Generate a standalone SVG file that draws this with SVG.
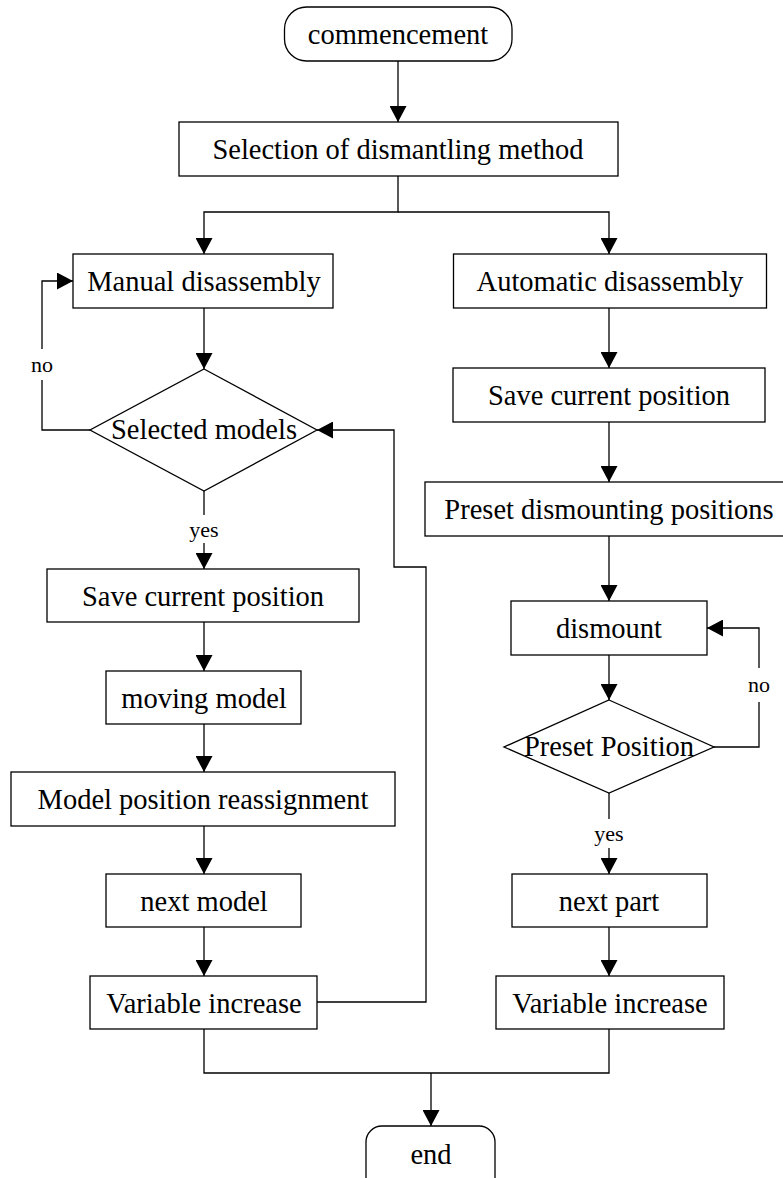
<svg xmlns="http://www.w3.org/2000/svg" width="783" height="1178" viewBox="0 0 783 1178">
<style>
.b{fill:#fff;stroke:#000;stroke-width:1.3}
.t{font-family:"Liberation Serif","Times New Roman",serif;font-size:28.5px;text-anchor:middle;fill:#000}
.l{font-family:"Liberation Serif","Times New Roman",serif;font-size:22px;text-anchor:middle;fill:#000}
.c{fill:none;stroke:#000;stroke-width:1.3}
</style>
<defs>
<marker id="a" markerUnits="userSpaceOnUse" markerWidth="17" markerHeight="17" refX="16" refY="8.5" orient="auto">
<path d="M0,0 L16,8.5 L0,17 z" fill="#000"/>
</marker>
</defs>
<rect width="783" height="1178" fill="#fff"/>
<g id="connectors">
<path class="c" d="M398,61 V122" marker-end="url(#a)"/>
<path class="c" d="M398,176 V212 H204 V254" marker-end="url(#a)"/>
<path class="c" d="M398,212 H609 V254" marker-end="url(#a)"/>
<path class="c" d="M204,308 V369" marker-end="url(#a)"/>
<path class="c" d="M90,430 H42 V380"/>
<path class="c" d="M42,349 V281 H73" marker-end="url(#a)"/>
<path class="c" d="M204,491 V515"/>
<path class="c" d="M204,543 V569" marker-end="url(#a)"/>
<path class="c" d="M204,622 V671" marker-end="url(#a)"/>
<path class="c" d="M204,724 V772" marker-end="url(#a)"/>
<path class="c" d="M204,826 V874" marker-end="url(#a)"/>
<path class="c" d="M204,927 V976" marker-end="url(#a)"/>
<path class="c" d="M317,1002 H426 V567 H394 V430 H317" marker-end="url(#a)"/>
<path class="c" d="M609,308 V368" marker-end="url(#a)"/>
<path class="c" d="M609,422 V482" marker-end="url(#a)"/>
<path class="c" d="M609,536 V601" marker-end="url(#a)"/>
<path class="c" d="M609,655 V700" marker-end="url(#a)"/>
<path class="c" d="M714,747 H759 V702"/>
<path class="c" d="M759,668 V628 H707" marker-end="url(#a)"/>
<path class="c" d="M609,793 V819"/>
<path class="c" d="M609,848 V874" marker-end="url(#a)"/>
<path class="c" d="M609,927 V976" marker-end="url(#a)"/>
<path class="c" d="M204,1029 V1073 H609 V1029"/>
<path class="c" d="M431,1073 V1126" marker-end="url(#a)"/>
<text class="l" x="42" y="372">no</text>
<text class="l" x="204" y="537">yes</text>
<text class="l" x="759" y="692">no</text>
<text class="l" x="609" y="841">yes</text>
</g>
<g id="n-start"><rect class="b" x="284.5" y="7" width="227.5" height="54" rx="22"/><text class="t" x="398" y="44">commencement</text></g>
<g id="n-select"><rect class="b" x="179" y="122" width="439" height="54"/><text class="t" x="398" y="159">Selection of dismantling method</text></g>
<g id="n-manual"><rect class="b" x="73" y="254" width="260" height="54"/><text class="t" x="204" y="291">Manual disassembly</text></g>
<g id="n-auto"><rect class="b" x="453.5" y="254" width="313" height="54"/><text class="t" x="610" y="291">Automatic disassembly</text></g>
<g id="n-selected"><polygon class="b" points="204,369 317,430 204,491 90,430"/><text class="t" x="204" y="439">Selected models</text></g>
<g id="n-saveL"><rect class="b" x="47" y="569" width="312" height="53"/><text class="t" x="203" y="606">Save current position</text></g>
<g id="n-moving"><rect class="b" x="106" y="671" width="195" height="53"/><text class="t" x="204" y="708">moving model</text></g>
<g id="n-reassign"><rect class="b" x="11" y="772" width="384" height="54"/><text class="t" x="203" y="809">Model position reassignment</text></g>
<g id="n-nextmodel"><rect class="b" x="106" y="874" width="195" height="53"/><text class="t" x="204" y="911">next model</text></g>
<g id="n-varL"><rect class="b" x="90" y="976" width="227" height="53"/><text class="t" x="204" y="1013">Variable increase</text></g>
<g id="n-saveR"><rect class="b" x="453" y="368" width="312" height="54"/><text class="t" x="609" y="405">Save current position</text></g>
<g id="n-preset"><rect class="b" x="425" y="482" width="370" height="54"/><text class="t" x="609" y="519">Preset dismounting positions</text></g>
<g id="n-dismount"><rect class="b" x="511" y="601" width="196" height="54"/><text class="t" x="609" y="638">dismount</text></g>
<g id="n-presetpos"><polygon class="b" points="609,700 714,747 609,793 504,747"/><text class="t" x="609" y="756">Preset Position</text></g>
<g id="n-nextpart"><rect class="b" x="512" y="874" width="195" height="53"/><text class="t" x="609" y="911">next part</text></g>
<g id="n-varR"><rect class="b" x="496" y="976" width="228" height="53"/><text class="t" x="610" y="1013">Variable increase</text></g>
<g id="n-end"><rect class="b" x="366" y="1126" width="129" height="70" rx="16"/><text class="t" x="431" y="1164">end</text></g>
</svg>
